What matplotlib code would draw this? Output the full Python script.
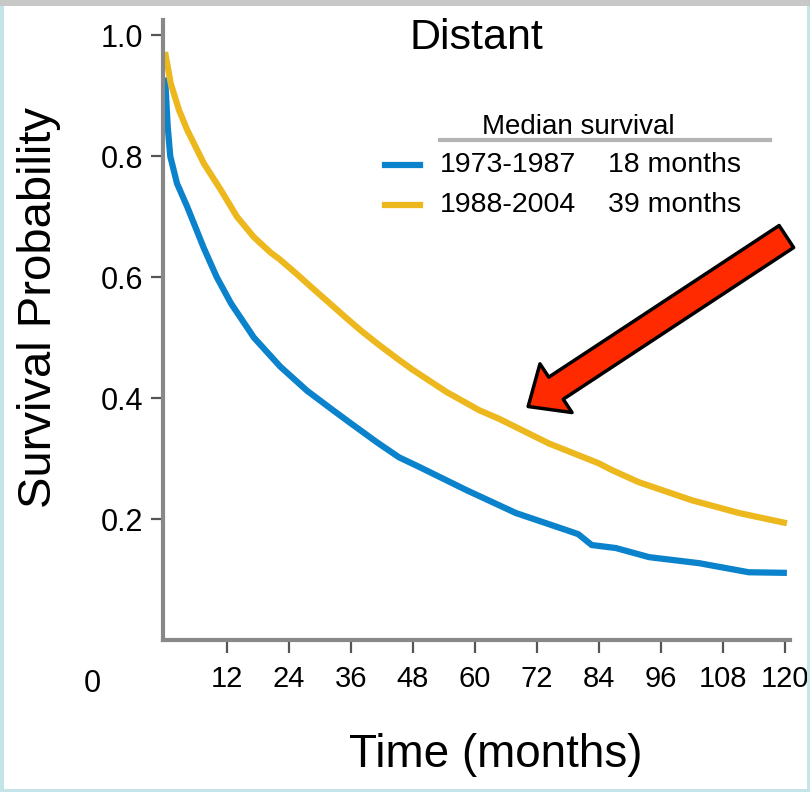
import matplotlib
matplotlib.use("Agg")
import matplotlib.pyplot as plt
from matplotlib import font_manager
from matplotlib.lines import Line2D
from matplotlib.patches import FancyArrowPatch, Rectangle, ArrowStyle

# fonts - condensed look if we have it
names = set(f.name for f in font_manager.fontManager.ttflist)
fam = 'Liberation Sans Narrow' if 'Liberation Sans Narrow' in names else 'Liberation Sans'
plt.rcParams['font.family'] = [fam, 'DejaVu Sans']

# Kaplan-Meier curves (months, survival prob.)
t_early = [0, 0.5, 1, 2.3, 4.3, 7.5, 10, 12.8, 17.2, 22.3, 27.5, 32.5, 36, 41,
           45.3, 49, 58.3, 67.9, 77.6, 80, 82.6, 87.3, 93.7, 103.4, 113, 120.4]
s_early = [0.93, 0.85, 0.80, 0.755, 0.716, 0.648, 0.60, 0.556, 0.50, 0.452, 0.412,
           0.38, 0.358, 0.327, 0.302, 0.287, 0.248, 0.21, 0.182, 0.175, 0.157,
           0.152, 0.137, 0.127, 0.112, 0.111]

t_late = [0, 1.1, 2.7, 4.3, 7.5, 10.8, 13.9, 17.2, 20.5, 22.1, 25.5, 28.5, 32.1,
          35, 38, 41.4, 45.3, 47.9, 54.5, 60.8, 64.6, 74.3, 84, 86.5, 91.7, 102,
          111.1, 120.4]
s_late = [0.972, 0.92, 0.876, 0.843, 0.788, 0.744, 0.70, 0.666, 0.64, 0.63, 0.605,
          0.582, 0.555, 0.533, 0.511, 0.488, 0.463, 0.447, 0.41, 0.38, 0.366,
          0.325, 0.292, 0.281, 0.261, 0.231, 0.21, 0.193]

periods = ['1973-1987', '1988-2004']
medians = ['18 months', '39 months']
colors = ['#0a82cc', '#ecb81e']

xticks = [12, 24, 36, 48, 60, 72, 84, 96, 108, 120]
yticks = [0.2, 0.4, 0.6, 0.8, 1.0]

fig = plt.figure(figsize=(8.1, 7.92), dpi=100)
ax = fig.add_axes([163/810, 152/792, 627/810, 620/792])

ax.plot(t_early, s_early, color=colors[0], lw=4.5, solid_capstyle='butt')
ax.plot(t_late, s_late, color=colors[1], lw=4.5, solid_capstyle='butt')

ax.set_xlim(-0.4, 121)
ax.set_ylim(0, 1.025)
ax.set_xticks(xticks)
ax.set_yticks(yticks)
ax.set_xticklabels([str(v) for v in xticks], fontsize=21)
ax.set_yticklabels(['%.1f' % v for v in yticks], fontsize=22)
ax.tick_params(direction='out', length=9, width=1.6, color='#555555', pad=5)
ax.tick_params(axis='x', pad=9)

for s in ['top', 'right']:
    ax.spines[s].set_visible(False)
for s in ['left', 'bottom']:
    ax.spines[s].set_color('#888888')
    ax.spines[s].set_linewidth(3)

# the stray "0" origin label at the far left
ax.text(-0.113, -0.071, '0', transform=ax.transAxes, fontsize=22,
        ha='center', va='center')

ax.set_title('Distant', fontsize=31, y=0.94)
ax.set_xlabel('Time (months)', fontsize=33)
ax.xaxis.set_label_coords(0.53, -0.15)
ax.set_ylabel('Survival Probability', fontsize=34)
ax.yaxis.set_label_coords(-0.163, 0.537)

# legend drawn by hand, two text columns
ax.text(0.662, 0.827, 'Median survival', transform=ax.transAxes, fontsize=20,
        ha='center', va='center')
ax.add_line(Line2D([0.442, 0.968], [0.806, 0.806], transform=ax.transAxes,
                   color='#b4b4b4', lw=3, clip_on=False))
rows = [0.766, 0.702]
for i in range(2):
    ax.add_line(Line2D([0.354, 0.41], [rows[i], rows[i]], transform=ax.transAxes,
                       color=colors[i], lw=4.5, clip_on=False))
    ax.text(0.442, rows[i], periods[i], transform=ax.transAxes, fontsize=20.5,
            ha='left', va='center')
    ax.text(0.71, rows[i], medians[i], transform=ax.transAxes, fontsize=20.5,
            ha='left', va='center')

# red arrow pointing at the gap between the curves
arr = FancyArrowPatch((120.3, 0.667), (70.3, 0.386),
                      arrowstyle=ArrowStyle.Simple(head_length=24, head_width=42, tail_width=19),
                      mutation_scale=1, fc='#ff2a00', ec='black', lw=2.5,
                      shrinkA=0, shrinkB=0, clip_on=False, zorder=5)
ax.add_patch(arr)

# slide-like frame round the picture
fig.patches.append(Rectangle((0, 0), 1, 1, transform=fig.transFigure, fill=False,
                             ec='#c4e4e8', lw=5))
fig.patches.append(Rectangle((0, 1 - 6/792), 1, 6/792, transform=fig.transFigure,
                             fc='#c8c8c8', ec='none'))

fig.savefig('out.png', dpi=100)
